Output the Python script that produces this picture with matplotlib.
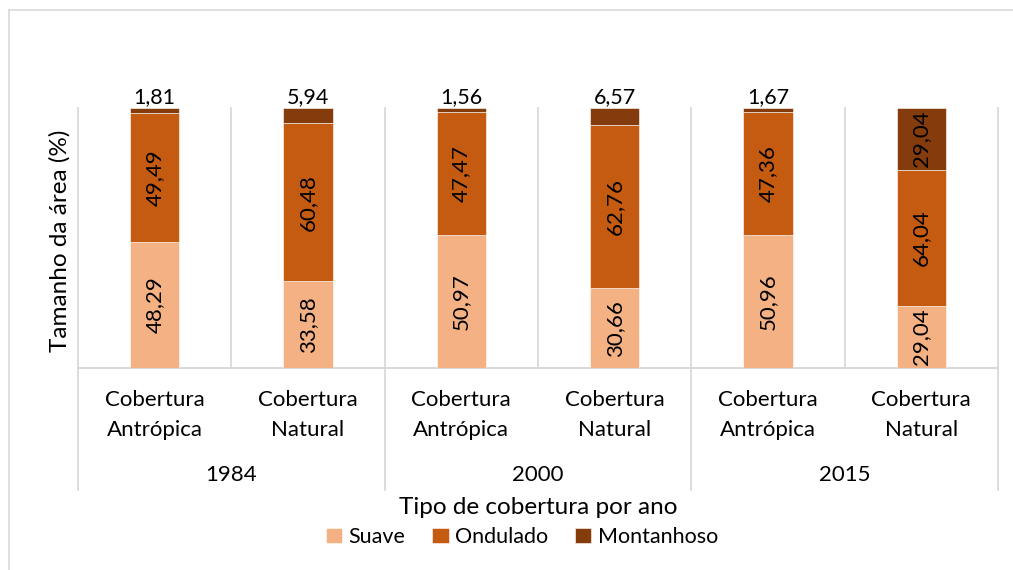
import matplotlib.pyplot as plt
import numpy as np

plt.rcParams["font.family"] = ["Lato", "DejaVu Sans"]

anos = ["1984", "2000", "2015"]
coberturas = ["Cobertura\nAntrópica", "Cobertura\nNatural"]
series = ["Suave", "Ondulado", "Montanhoso"]
suave = [48.29, 33.58, 50.97, 30.66, 50.96, 29.04]
ondulado = [49.49, 60.48, 47.47, 62.76, 47.36, 64.04]
montanhoso = [1.81, 5.94, 1.56, 6.57, 1.67, 29.04]
cores = ["#F4B183", "#C55A11", "#843C0C"]
grid_cor = "#D9D9D9"

W, H = 1013, 570
fig = plt.figure(figsize=(W / 100, H / 100), dpi=100)
# plot area in pixels: x 78..998, y 108..368
ax = fig.add_axes([78 / W, 1 - 368 / H, (998 - 78) / W, (368 - 108) / H])

dados = np.array([suave, ondulado, montanhoso])
totais = dados.sum(axis=0)
pct = dados / totais * 100  # 100% stacked

x = np.arange(len(suave)) + 0.5
base = np.zeros(len(suave))
for i, nome in enumerate(series):
    ax.bar(x, pct[i], 0.32, bottom=base, color=cores[i], label=nome,
           edgecolor="white", linewidth=0.4, zorder=3)
    for j in range(len(x)):
        txt = f"{dados[i, j]:.2f}".replace(".", ",")
        if pct[i, j] < 10:
            ax.annotate(txt, (x[j], base[j] + pct[i, j]), xytext=(0, 1),
                        textcoords="offset points", ha="center", va="bottom",
                        fontsize=15.5, annotation_clip=False)
        else:
            ax.text(x[j], base[j] + pct[i, j] / 2, txt, rotation=90,
                    ha="center", va="center", fontsize=16, zorder=4)
    base += pct[i]

ax.set_xlim(0, len(x))
ax.set_ylim(0, 100)
ax.set_xticks([])
ax.set_yticks([])
for s in ax.spines.values():
    s.set_visible(False)

tr = ax.get_xaxis_transform()
# inner gridlines (plot area only)
for k in range(1, len(x)):
    y0 = -0.469 if k % 2 == 0 else 0
    ax.plot([k, k], [y0, 1], color=grid_cor, lw=1.3, transform=tr, clip_on=False, zorder=1)
for k in [0, len(x)]:
    ax.plot([k, k], [-0.469, 1], color=grid_cor, lw=1.3, transform=tr, clip_on=False, zorder=1)
ax.plot([0, len(x)], [0, 0], color=grid_cor, lw=1.5, transform=tr, clip_on=False, zorder=2)

for j in range(len(x)):
    ax.text(x[j], -0.18, coberturas[j % 2], transform=tr, ha="center", va="center",
            fontsize=16, linespacing=1.6)
for g, ano in enumerate(anos):
    ax.text(2 * g + 1, -0.412, ano, transform=tr, ha="center", va="center", fontsize=16)

fig.text(60 / W, 1 - 241 / H, "Tamanho da área (%)", rotation=90, ha="center", va="center",
         fontsize=17.5)
fig.text(538 / W, 1 - 508 / H, "Tipo de cobertura por ano", ha="center", va="center", fontsize=17.5)

fig.legend(loc="center", bbox_to_anchor=(522 / W, 1 - 537 / H), ncol=3, frameon=False,
           fontsize=15.5, handlelength=0.75, handleheight=0.75, handletextpad=0.3,
           columnspacing=1.25)

# chart border
fig.add_artist(plt.Line2D([9 / W, 9 / W], [0, 1 - 10 / H], color=grid_cor, lw=1.2))
fig.add_artist(plt.Line2D([9 / W, 1], [1 - 10 / H, 1 - 10 / H], color=grid_cor, lw=1.2))

fig.savefig("out.png", dpi=100)
